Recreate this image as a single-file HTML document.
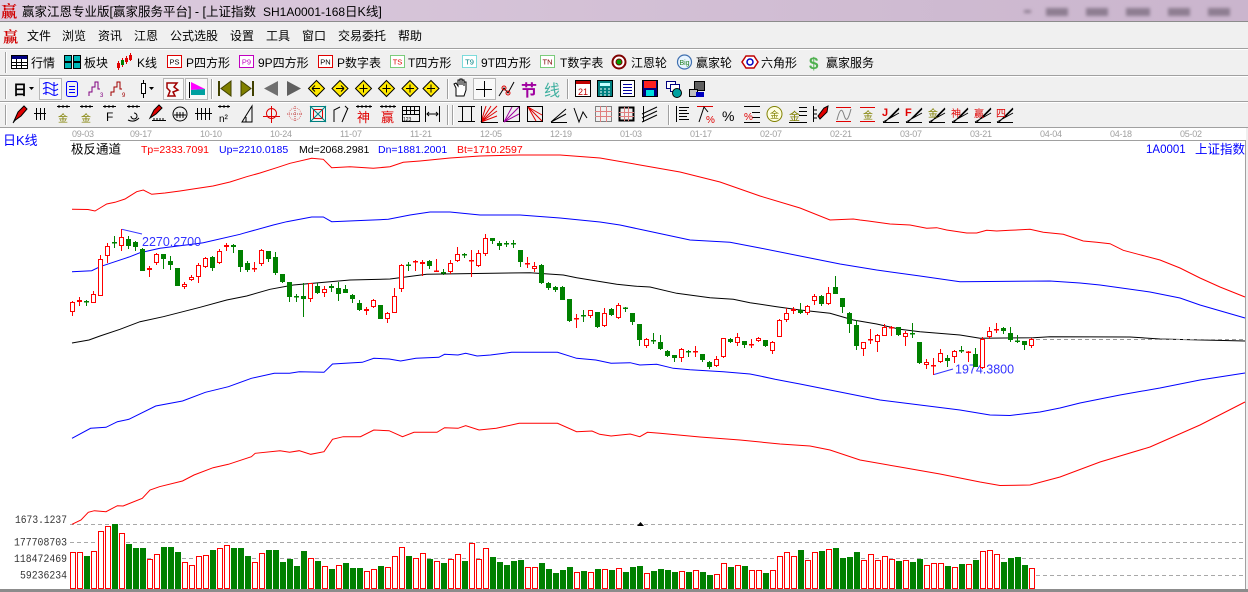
<!DOCTYPE html>
<html><head><meta charset="utf-8"><style>html,body{margin:0;padding:0;width:1248px;height:592px;overflow:hidden;background:#f0f0f0}svg{display:block}</style></head><body>
<svg width="1248" height="592" viewBox="0 0 1248 592" xmlns="http://www.w3.org/2000/svg" font-family="'Liberation Sans','Noto Sans CJK SC',sans-serif">
<defs>
<linearGradient id="tg" x1="0" x2="1" y1="0" y2="0"><stop offset="0" stop-color="#dccbde"/><stop offset="1" stop-color="#cab5cd"/></linearGradient>
<filter id="bl" x="-20%" y="-50%" width="140%" height="200%"><feGaussianBlur stdDeviation="1.6"/></filter>
</defs>
<rect width="1248" height="592" fill="#f0f0f0"/>
<!-- title bar -->
<rect width="1248" height="21" fill="url(#tg)"/>
<line x1="0" y1="21.5" x2="1248" y2="21.5" stroke="#8c8c8c"/>
<text x="1" y="17" font-size="16" font-weight="bold" fill="#d00000" font-family="'Noto Serif CJK SC',serif">赢</text>
<text x="22" y="16" font-size="12.5" fill="#000">赢家江恩专业版[赢家服务平台] - [上证指数&#160;&#160;<tspan font-size="12">SH1A0001-168</tspan>日K线]</text>
<g filter="url(#bl)" fill="#8e7e92"><rect x="1024" y="10" width="7" height="3"/><rect x="1046" y="8" width="22" height="8"/><rect x="1086" y="8" width="22" height="8"/><rect x="1126" y="8" width="24" height="8"/><rect x="1168" y="8" width="22" height="8"/><rect x="1208" y="8" width="22" height="8"/></g>
<!-- menu -->
<text x="3" y="42" font-size="15" font-weight="bold" fill="#d00000" font-family="'Noto Serif CJK SC',serif">赢</text>
<g font-size="12" fill="#000">
<text x="27" y="40">文件</text><text x="62" y="40">浏览</text><text x="98" y="40">资讯</text><text x="134" y="40">江恩</text><text x="170" y="40">公式选股</text><text x="230" y="40">设置</text><text x="266" y="40">工具</text><text x="302" y="40">窗口</text><text x="338" y="40">交易委托</text><text x="398" y="40">帮助</text>
</g>
<g stroke-width="1">
<line x1="0" y1="48.5" x2="1248" y2="48.5" stroke="#a0a0a0"/><line x1="0" y1="49.5" x2="1248" y2="49.5" stroke="#fff"/>
<line x1="0" y1="75.5" x2="1248" y2="75.5" stroke="#a0a0a0"/><line x1="0" y1="76.5" x2="1248" y2="76.5" stroke="#fff"/>
<line x1="0" y1="101.5" x2="1248" y2="101.5" stroke="#a0a0a0"/><line x1="0" y1="102.5" x2="1248" y2="102.5" stroke="#fff"/>
<line x1="0" y1="127.5" x2="1248" y2="127.5" stroke="#a0a0a0"/>
<path d="M5.5 52v21M5.5 79v20M5.5 105v20M447.5 105v20M452.5 105v20" stroke="#a0a0a0"/>
<path d="M6.5 52v21M6.5 79v20M6.5 105v20M448.5 105v20M453.5 105v20" stroke="#fff"/>
<path d="M211.5 79v20M447.5 79v20M567.5 79v20M668.5 105v20" stroke="#a0a0a0"/>
<path d="M212.5 79v20M448.5 79v20M568.5 79v20M669.5 105v20" stroke="#fff"/>
</g>
<!-- toolbar 1 -->
<g font-size="12" fill="#000">
<text x="31" y="67">行情</text><text x="84" y="67">板块</text><text x="137" y="67">K线</text><text x="186" y="67">P四方形</text><text x="258" y="67">9P四方形</text><text x="337" y="67">P数字表</text><text x="408" y="67">T四方形</text><text x="481" y="67">9T四方形</text><text x="560" y="67">T数字表</text><text x="631" y="67">江恩轮</text><text x="696" y="67">赢家轮</text><text x="761" y="67">六角形</text><text x="826" y="67">赢家服务</text>
</g>
<rect x="11.5" y="55.5" width="16" height="13" fill="#fff" stroke="#000"/><rect x="12" y="56" width="15" height="3" fill="#000080"/><path d="M12 62.5h15M12 65.5h15M16.5 59v9M21.5 59v9" stroke="#000"/>
<g fill="#00b8b8" stroke="#000"><rect x="64.5" y="55.5" width="7" height="6"/><rect x="73.5" y="55.5" width="7" height="6"/><rect x="64.5" y="62.5" width="7" height="6"/><rect x="73.5" y="62.5" width="7" height="6"/></g>
<path d="M118.5 61v9M122.5 58v9M126.5 56v8M130.5 53v8" stroke="#e00000"/><rect x="117" y="63" width="3" height="5" fill="#e00000"/><rect x="121" y="60" width="3" height="5" fill="#008000"/><rect x="125" y="58" width="3" height="4" fill="#e00000"/><rect x="129" y="55" width="3" height="5" fill="#e00000"/>
<g font-size="7.5" text-anchor="middle">
<rect x="167.5" y="55.5" width="14" height="12" fill="#fff" stroke="#e00000"/><text x="174.5" y="64.5" fill="#000">PS</text>
<rect x="239.5" y="55.5" width="14" height="12" fill="#fff" stroke="#c000c0"/><text x="246.5" y="64.5" fill="#c000c0">P9</text>
<rect x="318.5" y="55.5" width="14" height="12" fill="#fff" stroke="#e00000"/><text x="325.5" y="64.5" fill="#000">PN</text>
<rect x="390.5" y="55.5" width="14" height="12" fill="#fff" stroke="#00a000" stroke-dasharray="1 1"/><text x="397.5" y="64.5" fill="#e00000">TS</text>
<rect x="462.5" y="55.5" width="14" height="12" fill="#fff" stroke="#00c0c0" stroke-dasharray="1 1"/><text x="469.5" y="64.5" fill="#008080">T9</text>
<rect x="540.5" y="55.5" width="14" height="12" fill="#fff" stroke="#00a000" stroke-dasharray="1 1"/><text x="547.5" y="64.5" fill="#800000">TN</text>
</g>
<circle cx="619" cy="62" r="6.5" fill="#fff" stroke="#800000" stroke-width="2"/><circle cx="619" cy="62" r="3" fill="#00a000" stroke="#800000"/>
<circle cx="684.5" cy="62" r="7" fill="#e8f4ff" stroke="#4070b0" stroke-width="1.2"/><text x="684.5" y="65" font-size="7" fill="#208020" text-anchor="middle">Big</text>
<polygon points="746,56 754,56 758,62 754,68 746,68 742,62" fill="#fff" stroke="#c00000" stroke-width="1.5"/><circle cx="750" cy="62" r="3" fill="#fff" stroke="#0000c0" stroke-width="1.5"/>
<text x="809" y="69" font-size="17" font-weight="bold" fill="#50b050">$</text>
<!-- toolbar 2 -->
<text x="13" y="95" font-size="14" font-weight="bold" fill="#000">日</text><path d="M29 87h5l-2.5 3z" fill="#000"/>
<rect x="39.5" y="78.5" width="22" height="21" fill="#f9f9f9" stroke="#b8b8b8"/>
<rect x="163.5" y="78.5" width="20" height="21" fill="#f9f9f9" stroke="#b8b8b8"/>
<rect x="185.5" y="78.5" width="22" height="21" fill="#f9f9f9" stroke="#b8b8b8"/>
<rect x="473.5" y="78.5" width="22" height="21" fill="#f9f9f9" stroke="#b8b8b8"/>
<path d="M43 84q4-3 8 0t7 0M43 89q4-3 8 0t7 0M43 94q4-3 8 0t7 0M46 82v13M54 82v13" stroke="#0000ff" fill="none"/>
<rect x="66.5" y="81.5" width="11" height="15" rx="2" fill="none" stroke="#0000ff"/><path d="M69 86.5h6M69 89.5h6M69 92.5h6" stroke="#0000ff"/>
<path d="M89 96v-4h3v-5h3v-5h3v7h2" stroke="#800080" fill="none"/><text x="100" y="97" font-size="6" fill="#800080">3</text>
<path d="M111 96v-4h3v-5h3v-5h3v7h2" stroke="#a00000" fill="none"/><text x="122" y="97" font-size="6" fill="#a00000">9</text>
<path d="M143.5 80v18" stroke="#000"/><rect x="141.5" y="83.5" width="4" height="10" fill="#fff" stroke="#000"/><path d="M149 87h5l-2.5 3z" fill="#000"/>
<path d="M167 83h10l-3 4 4 3-5 2 2 4h-7l2-5-3-3z" fill="none" stroke="#a00000" stroke-width="1.5"/>
<path d="M189.5 82v16" stroke="#000"/><polygon points="191,82 205,89 191,90" fill="#ff00ff"/><polygon points="191,90 205,89 205,95 191,95" fill="#00a0a0"/>
<rect x="218" y="81" width="2" height="15" fill="#404000"/><polygon points="231,81 221,88.5 231,96" fill="#808000" stroke="#404000"/>
<polygon points="241,81 251,88.5 241,96" fill="#808000" stroke="#404000"/><rect x="252" y="81" width="2" height="15" fill="#404000"/>
<polygon points="278,81 264,88.5 278,96" fill="#707070"/><polygon points="287,81 301,88.5 287,96" fill="#606060"/>
<g fill="#ffe800" stroke="#000"><polygon points="316.5,80.5 324.5,88.5 316.5,96.5 308.5,88.5"/><polygon points="340,80.5 348,88.5 340,96.5 332,88.5"/><polygon points="363.5,80.5 371.5,88.5 363.5,96.5 355.5,88.5"/><polygon points="386.5,80.5 394.5,88.5 386.5,96.5 378.5,88.5"/><polygon points="410,80.5 418,88.5 410,96.5 402,88.5"/><polygon points="431,80.5 439,88.5 431,96.5 423,88.5"/></g>
<path d="M312 88.5h8M312 88.5l3-3M312 88.5l3 3M336 88.5h8M344 88.5l-3-3M344 88.5l-3 3M359.5 88.5h8M363.5 84.5v8M382.5 88.5h8M386.5 84.5v8M406 88.5h8M410 84.5v8M427 88.5h8M431 84.5v8" stroke="#000" fill="none"/>
<path d="M456 96v-8l-2-4 2-1 2 3v-6h2v5v-6h2v6v-5h2v6v-4h2v8l-2 6z" fill="#fff" stroke="#000"/>
<path d="M484.5 81v16M476 89.5h16" stroke="#000"/>
<path d="M499 96l5-8 4 5 6-11" stroke="#000" fill="none"/><circle cx="504" cy="88" r="2" stroke="#e00000" fill="none"/><circle cx="508" cy="93" r="2" stroke="#e00000" fill="none"/>
<text x="521" y="96" font-size="16" font-weight="bold" fill="#a000a0">节</text>
<text x="544" y="96" font-size="16" fill="#40b0a0">线</text>
<rect x="575.5" y="80.5" width="15" height="16" fill="#fff" stroke="#000"/><rect x="576" y="81" width="14" height="3" fill="#c00000"/><text x="583" y="95" font-size="9" fill="#c00000" text-anchor="middle">21</text>
<rect x="597.5" y="80.5" width="15" height="16" fill="#008080" stroke="#000"/><rect x="600" y="83" width="10" height="3" fill="#c0ffff"/><path d="M600 89h2M604 89h2M608 89h2M600 92h2M604 92h2M608 92h2M600 95h2M604 95h2M608 95h2" stroke="#fff"/>
<rect x="620.5" y="80.5" width="14" height="16" fill="#fff" stroke="#000"/><path d="M623 84.5h9M623 87.5h9M623 90.5h9M623 93.5h9" stroke="#0000a0"/>
<rect x="642.5" y="80.5" width="15" height="16" fill="#000080" stroke="#000"/><rect x="644" y="81" width="12" height="7" fill="#ff2020"/><rect x="646" y="90" width="8" height="6" fill="#00e0e0"/>
<rect x="666.5" y="81.5" width="9" height="7" fill="#fff" stroke="#000080"/><rect x="670.5" y="84.5" width="9" height="7" fill="#fff" stroke="#000080"/><circle cx="677" cy="93" r="4.5" fill="#00a0a0" stroke="#000"/>
<rect x="694.5" y="81.5" width="10" height="9" fill="#606060" stroke="#000"/><rect x="689.5" y="89.5" width="8" height="7" fill="#c0c0c0" stroke="#000"/><rect x="696" y="92" width="8" height="5" fill="#0000c0"/>
<!-- toolbar 3 -->
<g stroke="#000" fill="none">
<polygon points="14,121 18,112 24,106 27,109 21,116" fill="#e00000"/><path d="M13 123l3-4"/>
<path d="M36.5 108v12M40.5 108v12M44.5 108v12M34 113.5h12"/>
<path d="M57 106.5h13M59 105v3M63 105v3M67 105v3M80 106.5h13M82 105v3M86 105v3M90 105v3M103 106.5h13M105 105v3M109 105v3M113 105v3M127 106.5h13M129 105v3M133 105v3M137 105v3"/>
<path d="M131 116a3 3 0 1 0 3-3M128 120q6 3 11-2"/>
<polygon points="150,118 154,110 159,105 162,108 156,114" fill="#e00000"/><path d="M152 120.5h14M154 118v3M157 118v3M160 118v3M163 118v3"/>
<circle cx="180" cy="114" r="7"/><path d="M174 115h12M177 112v6M180 112v6M183 112v6"/>
<path d="M197.5 108v12M201.5 108v12M205.5 108v12M209.5 108v12M195 113.5h17"/>
<path d="M218 106.5h12M220 105v3M224 105v3M228 105v3"/>
<path d="M242 122l10-16v16zM246 122v-5"/>
<circle cx="271.5" cy="113.5" r="5" stroke="#e00000"/><path d="M263 116.5h17M271.5 106v17" stroke="#e00000"/>
<circle cx="295" cy="114" r="6" stroke="#e08080" stroke-dasharray="1 1"/><path d="M287 114h16M295 106v16" stroke="#c04040" stroke-dasharray="1 1"/>
<rect x="310.5" y="106.5" width="15" height="15" stroke="#008080"/><rect x="313.5" y="109.5" width="9" height="9" stroke="#e00000"/><path d="M310 106l16 16M326 106l-16 16" stroke="#008080"/>
<path d="M334 122V110l6-3M342 122l6-14M345 106l3 3"/>
<path d="M356 106.5h16M358 105v3M362 105v3M366 105v3M370 105v3M380 106.5h16M382 105v3M386 105v3M390 105v3M394 105v3"/>
<rect x="402.5" y="106.5" width="17" height="15"/><path d="M402 110.5h18M402 114.5h18M406.5 106v9M410.5 106v9M414.5 106v9"/>
<path d="M425.5 106v16M439.5 106v16M427 114h11M429 112l-2 2 2 2M436 112l2 2-2 2"/>
<path d="M458 106.5h17M458 121.5h17M462.5 106v16M471.5 106v16"/>
<path d="M481 122l16-16M481 122l16-11M481 122l16-6M481 122l10-16M481 122l5-16" stroke="#e00000"/><path d="M481 122.5h17M481.5 106v16"/>
<rect x="503.5" y="106.5" width="16" height="15"/><path d="M504 122l15-15M504 122l15-8M504 122l8-15" stroke="#a000a0"/>
<rect x="527.5" y="106.5" width="15" height="15"/><path d="M528 107l14 14M528 107l14 8M528 107l8 14" stroke="#e00000"/>
<path d="M551 122l15-13M551 122l15-8M551 122.5h16"/>
<path d="M574 108l5 14 4-10 4 6"/>
<rect x="595.5" y="106.5" width="16" height="15" stroke="#808080"/><path d="M595 111.5h17M595 116.5h17M600.5 106v16M606.5 106v16" stroke="#e08080"/>
<rect x="619.5" y="107.5" width="14" height="13" stroke-width="2"/><path d="M619 112.5h15M619 116.5h15M624.5 107v14M628.5 107v14" stroke="#e08080"/>
<path d="M642 114l15-7M642 118l15-7M642 122l15-7M643.5 106v16"/>
<path d="M676.5 106v16M679 107.5h10M679 110.5h8M679 113.5h10M679 116.5h8M679 119.5h10"/>
<path d="M697 106.5h16" stroke="#e00000"/><path d="M699 122l5-15 4 5"/>
<path d="M744 106.5h16M752 112.5h8M752 117.5h8M744 122.5h16"/>
<circle cx="774.5" cy="114" r="7.5" fill="#ffffe0" stroke="#808000"/>
<path d="M799 107.5h8M799 111.5h8M799 115.5h8M789 122.5h18"/>
<path d="M813.5 106v16M813 110h4M813 114h4M813 118h4"/><polygon points="818,116 824,108 828,106 827,112 820,119" fill="#e00000"/>
<path d="M836 107.5h15M836 121.5h15M860 107.5h15M860 121.5h15" stroke="#e00000"/><path d="M837 120c3-12 5-12 7-5s4 6 7-6" stroke="#808080"/>
<path d="M883 122.5h16M883 122l16-9M885 122l14-14M890 118l9-9M906 122.5h16M906 122l16-9M908 122l14-14M913 118l9-9M929 122.5h16M929 122l16-9M931 122l14-14M936 118l9-9M952 122.5h16M952 122l16-9M954 122l14-14M959 118l9-9M975 122.5h16M975 122l16-9M977 122l14-14M982 118l9-9M997 122.5h16M997 122l16-9M999 122l14-14M1004 118l9-9"/>
</g>
<g font-size="10">
<text x="58" y="122" fill="#808000">金</text><text x="81" y="122" fill="#808000">金</text>
<text x="106" y="121" font-size="12" fill="#000">F</text>
<text x="219" y="122" fill="#000">n²</text>
<text x="357" y="122" font-size="13" fill="#e00000">神</text><text x="381" y="122" font-size="13" fill="#e00000">赢</text>
<text x="403" y="121" font-size="5" fill="#000">123</text>
<text x="706" y="123" fill="#e00000">%</text>
<text x="722" y="121" font-size="14" fill="#000">%</text>
<text x="744" y="120" fill="#e00000">%</text>
<text x="770" y="118" font-size="9" fill="#808000">金</text>
<text x="789" y="120" font-size="11" fill="#808000">金</text>
<text x="863" y="119" fill="#808000">金</text>
<text x="882" y="116" font-size="11" font-weight="bold" fill="#e00000">J</text>
<text x="905" y="116" font-size="11" font-weight="bold" fill="#e00000">F</text>
<text x="928" y="117" fill="#808000">金</text>
<text x="951" y="117" fill="#e00000">神</text>
<text x="974" y="117" fill="#e00000">赢</text>
<text x="996" y="117" fill="#e00000">四</text>
</g>
<!-- chart area -->
<rect x="0" y="128" width="1246" height="461" fill="#fff"/>
<line x1="70" y1="140.5" x2="1246" y2="140.5" stroke="#a0a0a0"/>
<line x1="1245.5" y1="140" x2="1245.5" y2="589" stroke="#a0a0a0"/>
<rect x="0" y="589" width="1248" height="3" fill="#8c8c8c"/>
<text x="3" y="145" font-size="13" fill="#0000ff">日K线</text>
<g font-size="9" fill="#a0a0a0">
<text x="72" y="137" textLength="22">09-03</text><text x="130" y="137" textLength="22">09-17</text><text x="200" y="137" textLength="22">10-10</text><text x="270" y="137" textLength="22">10-24</text><text x="340" y="137" textLength="22">11-07</text><text x="410" y="137" textLength="22">11-21</text><text x="480" y="137" textLength="22">12-05</text><text x="550" y="137" textLength="22">12-19</text><text x="620" y="137" textLength="22">01-03</text><text x="690" y="137" textLength="22">01-17</text><text x="760" y="137" textLength="22">02-07</text><text x="830" y="137" textLength="22">02-21</text><text x="900" y="137" textLength="22">03-07</text><text x="970" y="137" textLength="22">03-21</text><text x="1040" y="137" textLength="22">04-04</text><text x="1110" y="137" textLength="22">04-18</text><text x="1180" y="137" textLength="22">05-02</text>
</g>
<text x="71" y="153.5" font-size="12.5" fill="#000">极反通道</text>
<g font-size="10.5">
<text x="141" y="153" fill="#ff0000">Tp=2333.7091</text><text x="219" y="153" fill="#0000ff">Up=2210.0185</text><text x="299" y="153" fill="#000">Md=2068.2981</text><text x="378" y="153" fill="#0000ff">Dn=1881.2001</text><text x="457" y="153" fill="#ff0000">Bt=1710.2597</text>
</g>
<text x="1146" y="153" font-size="11.5" fill="#0000ff">1A0001</text><text x="1195" y="153.5" font-size="12.5" fill="#0000ff">上证指数</text>
<!-- volume axis -->
<g font-family="'Liberation Mono',monospace" font-size="11" fill="#333">
<text x="15" y="523" textLength="52" lengthAdjust="spacingAndGlyphs">1673.1237</text>
<text x="14" y="545.5" textLength="53" lengthAdjust="spacingAndGlyphs">177708703</text>
<text x="14" y="562" textLength="53" lengthAdjust="spacingAndGlyphs">118472469</text>
<text x="20" y="578.5" textLength="47" lengthAdjust="spacingAndGlyphs">59236234</text>
</g>
<path d="M70 524.5H1245M70 542.5H1245M70 558.5H1245M70 575.5H1245" stroke="#a8a8a8" stroke-dasharray="4 3"/>
<polygon points="637,526 644,526 640.5,522" fill="#000"/>
<!-- channel lines -->
<g fill="none" stroke-width="1">
<polyline stroke="#ff0000" points="72,209.3 88,209.5 95,211 100,208 106.7,204 115,202.3 125,199 136.7,191.7 143.3,190 151.7,194.3 165,193 180,191 193,189 213,186 230,182 246.7,176.7 260,173 276.7,167.7 290,163.3 311.7,158.3 323.3,159.3 331.7,167.7 350,166.7 373.3,168.3 390,166.7 403.3,162.3 420,161 450,158 480,156 520,155 560,155 600,158 640,165 680,172 720,182 760,196 800,208 830,220 853.3,219 860,220 868.3,221 890,224 910,225 926.7,228.3 936.7,227.7 946.7,230 966.7,233 976.7,233 986.7,230.3 996.7,231 1010,230.3 1030,229.3 1043.3,232.3 1063.3,234.3 1083.3,241 1096.7,242.3 1110,243.7 1123.3,250.3 1138.3,254.3 1160,260 1180,268 1200,278 1220,287 1245,297"/>
<polyline stroke="#0000ff" points="72,271.7 91.7,270.7 100,266.7 115,261.7 130,256.7 140,252.7 160,248.3 200,243.3 203.3,242.7 240,234.3 243.3,233.3 273.3,225 286.7,221.7 311.7,217 323.3,217 331.7,221.7 366.7,220.3 388.3,219.3 410,215 430,212 450,212 480,215 520,215 560,218 600,222 620,225 643.3,230 690,240 730,242.3 760,248 800,256 840,264 876.7,270 920,276 960,281.7 1050,281 1080,283 1100,285 1150,292 1180,298 1200,305 1245,318"/>
<polyline stroke="#000" points="72,343 89,340 100,336 120,329.3 140,321.7 163.3,316.7 200,307.3 226.7,300 246.7,296 270,289.3 293.3,285 350,280 390,279 426.7,274.3 530,272.7 563.3,275 576.7,277.7 616.7,284.3 636.7,286.3 650,287 676.7,293.3 710,297.7 733.3,299.3 750,302.7 776.7,306.7 800,310 830,313.3 853.3,320 876.7,324 900,329.3 920,331.7 960,335 980,338.3 1033.3,337.7 1050,336.7 1130,337 1160,339 1245,341"/>
<polyline stroke="#0000ff" points="72,438.3 90.6,428.3 106,427.3 117.4,421.7 128.9,419.3 155.7,406 182.5,401 205.4,392.3 228.4,386.7 251.4,378.3 274.3,373.3 289.6,373.3 299.2,371.7 324,372.3 332.5,364 362.3,362.3 373.8,358.3 389.1,359 400.6,361 415.9,358.3 438.9,357.3 444.6,354.3 458,355 465.7,353.3 477.1,356 490.5,355 511.6,352.3 557.5,352.3 576.6,358.3 595.8,360 611.1,363.3 630.2,362.7 639.8,365 656.7,364.3 673.3,368.3 690,369.7 723.3,371.7 750,374 760,376 775,379.3 800,384 830,390 850,394 880,400 920,405 960,410 990,415 1010,415.5 1040,412 1060,408 1080,403 1120,395 1160,388 1200,380 1245,373"/>
<polyline stroke="#ff0000" points="72,524.3 81,520 88.3,512.3 94.4,510.7 106,511.7 117.4,505.7 123.1,506 142.3,498.3 150,490 159.5,486.7 182.5,481 194,475 213.1,467.7 228.4,464.3 251.4,456.7 255.2,453.3 280,450.7 289.6,452.3 299.2,450.7 310.7,454.3 324,451.7 332.5,439.3 343.2,436.7 360.4,436.7 373.8,430 389.1,430.7 402.5,436.7 414,432.3 437,432.3 444.6,427.7 458,428.3 465.7,425.7 479.1,430 496.3,428.3 519.2,423.3 557.5,423.3 576.6,431.7 592,431 599.6,434.3 611.1,436 630.2,434 639.8,436.7 647.5,432.3 660,433.3 700,437 740,440 780,444 810,446 830,450 860,460 900,467 940,474 980,482 1000,485.5 1030,485 1060,477 1100,462 1150,447 1200,425 1245,402"/>
<path d="M1036 339.5H1245" stroke="#999" stroke-dasharray="4 3"/>
<path d="M122 229.3L142 234M934 374.5L953 369" stroke="#3333ff"/>
</g>
<text x="142" y="246" font-size="12.5" fill="#3333ff">2270.2700</text>
<text x="955" y="373.5" font-size="12.5" fill="#3333ff">1974.3800</text>
<!-- wicks -->
<path fill="none" stroke="#ff0000" d="M72.5 301V316M79.5 297V306M93.5 291V303M100.5 255V296M107.5 243V263M121.5 229V251M149.5 266V277M156.5 253V265M184.5 282V289M191.5 275V281M198.5 263V283M205.5 257V268M219.5 249V264M226.5 243V251M254.5 262V272M261.5 249V266M310.5 283V302M324.5 286V297M366.5 307V315M373.5 299V308M387.5 312V323M394.5 288V313M401.5 264V292M415.5 260V271M422.5 260V276M436.5 259V272M450.5 260V274M457.5 247V262M471.5 250V277M478.5 250V267M485.5 234V256M527.5 257V268M534.5 262V272M576.5 314V328M590.5 310V318M604.5 308V327M618.5 303V319M646.5 338V348M681.5 348V362M695.5 346V357M716.5 356V367M723.5 338V358M737.5 333V346M751.5 339V348M758.5 337V342M772.5 341V354M779.5 319V337M786.5 308V322M793.5 307V314M807.5 305V315M814.5 294V305M828.5 287V305M863.5 342V356M870.5 329V344M877.5 334V352M884.5 324V336M891.5 326V336M905.5 331V346M926.5 359V369M933.5 358V375M940.5 349V363M954.5 350V363M968.5 351V362M982.5 337V369M989.5 327V339M996.5 323V333M1031.5 338V348"/>
<path fill="none" stroke="#008000" d="M86.5 300V306M114.5 236V248M128.5 236V249M135.5 241V251M142.5 248V271M163.5 254V269M170.5 256V270M177.5 268V286M212.5 256V271M233.5 244V253M240.5 250V272M247.5 261V272M268.5 251V262M275.5 252V275M282.5 274V283M289.5 282V302M296.5 294V302M303.5 283V317M317.5 283V294M331.5 284V292M338.5 282V301M345.5 285V293M352.5 294V303M359.5 300V311M380.5 305V319M408.5 262V271M429.5 260V269M443.5 269V275M464.5 253V258M492.5 238V244M499.5 241V250M506.5 241V247M513.5 240V248M520.5 250V267M541.5 264V284M548.5 282V290M555.5 286V292M562.5 286V300M569.5 299V322M583.5 310V322M597.5 312V328M611.5 308V316M625.5 307V312M632.5 313V325M639.5 324V346M653.5 333V344M660.5 335V350M667.5 350V357M674.5 355V362M688.5 350V357M702.5 354V362M709.5 361V369M730.5 338V343M744.5 341V348M765.5 340V347M800.5 303V314M821.5 295V306M835.5 276V294M842.5 298V313M849.5 312V333M856.5 320V350M898.5 327V336M912.5 323V338M919.5 342V364M947.5 355V367M961.5 346V353M975.5 348V367M1003.5 327V334M1010.5 327V342M1017.5 335V343M1024.5 341V350"/>
<!-- red hollow bodies -->
<path fill="#fff" stroke="#ff0000" d="M70.5 302.5h4v9h-4zM77.5 300.5h4v1h-4zM91.5 294.5h4v8h-4zM98.5 259.5h4v36h-4zM105.5 246.5h4v9h-4zM119.5 237.5h4v8h-4zM147.5 268.5h4v1h-4zM154.5 254.5h4v8h-4zM182.5 284.5h4v2h-4zM189.5 277.5h4v2h-4zM196.5 265.5h4v11h-4zM203.5 258.5h4v8h-4zM217.5 251.5h4v11h-4zM224.5 245.5h4v1h-4zM259.5 250.5h4v13h-4zM308.5 283.5h4v15h-4zM322.5 289.5h4v3h-4zM364.5 309.5h4v1h-4zM371.5 300.5h4v6h-4zM385.5 313.5h4v5h-4zM392.5 296.5h4v16h-4zM399.5 265.5h4v23h-4zM420.5 262.5h4v1h-4zM448.5 263.5h4v8h-4zM455.5 254.5h4v6h-4zM476.5 253.5h4v12h-4zM483.5 238.5h4v15h-4zM532.5 266.5h4v2h-4zM588.5 310.5h4v5h-4zM602.5 313.5h4v12h-4zM616.5 305.5h4v12h-4zM644.5 339.5h4v6h-4zM679.5 349.5h4v8h-4zM714.5 359.5h4v6h-4zM721.5 338.5h4v18h-4zM735.5 337.5h4v5h-4zM756.5 338.5h4v2h-4zM770.5 342.5h4v8h-4zM777.5 320.5h4v16h-4zM784.5 313.5h4v6h-4zM791.5 309.5h4v1h-4zM805.5 306.5h4v6h-4zM812.5 296.5h4v4h-4zM826.5 293.5h4v10h-4zM861.5 342.5h4v6h-4zM875.5 335.5h4v6h-4zM882.5 327.5h4v8h-4zM903.5 333.5h4v3h-4zM924.5 362.5h4v2h-4zM938.5 353.5h4v8h-4zM952.5 351.5h4v5h-4zM980.5 339.5h4v28h-4zM987.5 331.5h4v5h-4zM1029.5 339.5h4v6h-4z"/>
<!-- red doji -->
<path fill="#ff0000" d="M252 268h5v1.5h-5zM413 261h5v1.5h-5zM434 270.5h5v1.5h-5zM469 260h5v1.5h-5zM525 263h5v1.5h-5zM574 318h5v1.5h-5zM693 351h5v1.5h-5zM749 344h5v1.5h-5zM868 339h5v1.5h-5zM889 327h5v1.5h-5zM931 365h5v1.5h-5zM966 351.5h5v1.5h-5zM994 329h5v1.5h-5z"/>
<!-- green bodies -->
<path fill="#008000" d="M84 301h5v1.5h-5zM112 242h5v1.5h-5zM126 239h5v7h-5zM133 242h5v5h-5zM140 249h5v22h-5zM161 254h5v5h-5zM168 261h5v4h-5zM175 268h5v18h-5zM210 257h5v11h-5zM231 245h5v2h-5zM238 250h5v17h-5zM245 263h5v7h-5zM266 251h5v8h-5zM273 257h5v16h-5zM280 274h5v8h-5zM287 282h5v15h-5zM294 296h5v1.5h-5zM301 296h5v3h-5zM315 286h5v7h-5zM329 286h5v2h-5zM336 288h5v6h-5zM343 289h5v4h-5zM350 295h5v4h-5zM357 303h5v7h-5zM378 305h5v14h-5zM406 264.5h5v1.5h-5zM427 261h5v5h-5zM441 272h5v1.5h-5zM462 254h5v1.5h-5zM490 238h5v3h-5zM497 243h5v3h-5zM504 243h5v1.5h-5zM511 243h5v1.5h-5zM518 250h5v12h-5zM539 265h5v18h-5zM546 283h5v5h-5zM553 287h5v3h-5zM560 287h5v13h-5zM567 299h5v22h-5zM581 315h5v1.5h-5zM595 312h5v15h-5zM609 309h5v6h-5zM623 307.5h5v1.5h-5zM630 313h5v9h-5zM637 324h5v16h-5zM651 340h5v1.5h-5zM658 342h5v7h-5zM665 351h5v5h-5zM672 355h5v3h-5zM686 351h5v1.5h-5zM700 354h5v6h-5zM707 362h5v5h-5zM728 339h5v3h-5zM742 341h5v4h-5zM763 340h5v6h-5zM798 310h5v3h-5zM819 296h5v8h-5zM833 287h5v7h-5zM840 298h5v9h-5zM847 313h5v11h-5zM854 325h5v21h-5zM896 327h5v8h-5zM910 333h5v1.5h-5zM917 342h5v21h-5zM945 358h5v3h-5zM959 350h5v1.5h-5zM973 354h5v13h-5zM1001 328h5v3h-5zM1008 333h5v7h-5zM1015 340.5h5v1.5h-5zM1022 341h5v4h-5z"/>
<!-- volume green -->
<path fill="#008000" d="M84 556h6V589h-6zM112 524h6V589h-6zM126 544h6V589h-6zM133 548h6V589h-6zM140 548h6V589h-6zM161 547h6V589h-6zM168 547h6V589h-6zM175 552h6V589h-6zM210 550h6V589h-6zM231 548h6V589h-6zM238 548h6V589h-6zM245 556h6V589h-6zM266 550h6V589h-6zM273 550h6V589h-6zM280 562h6V589h-6zM287 559h6V589h-6zM294 566h6V589h-6zM301 551h6V589h-6zM315 561h6V589h-6zM329 569h6V589h-6zM343 563h6V589h-6zM350 568h6V589h-6zM357 568h6V589h-6zM378 566h6V589h-6zM406 556h6V589h-6zM427 559h6V589h-6zM441 563h6V589h-6zM462 561h6V589h-6zM490 557h6V589h-6zM497 562h6V589h-6zM504 565h6V589h-6zM511 561h6V589h-6zM518 560h6V589h-6zM539 563h6V589h-6zM546 569h6V589h-6zM553 573h6V589h-6zM560 570h6V589h-6zM567 567h6V589h-6zM581 571h6V589h-6zM595 569h6V589h-6zM609 570h6V589h-6zM623 572h6V589h-6zM630 567h6V589h-6zM637 566h6V589h-6zM651 571h6V589h-6zM658 569h6V589h-6zM665 570h6V589h-6zM672 572h6V589h-6zM686 572h6V589h-6zM700 572h6V589h-6zM707 575h6V589h-6zM728 567h6V589h-6zM742 566h6V589h-6zM763 573h6V589h-6zM798 550h6V589h-6zM819 551h6V589h-6zM833 548h6V589h-6zM840 558h6V589h-6zM847 557h6V589h-6zM854 552h6V589h-6zM896 561h6V589h-6zM910 562h6V589h-6zM917 559h6V589h-6zM945 566h6V589h-6zM959 564h6V589h-6zM973 560h6V589h-6zM1001 562h6V589h-6zM1008 558h6V589h-6zM1015 557h6V589h-6zM1022 565h6V589h-6z"/>
<!-- volume red -->
<path fill="#fff" stroke="#ff0000" d="M70.5 552.5h5V588.5h-5zM77.5 552.5h5V588.5h-5zM91.5 551.5h5V588.5h-5zM98.5 531.5h5V588.5h-5zM105.5 526.5h5V588.5h-5zM119.5 533.5h5V588.5h-5zM147.5 559.5h5V588.5h-5zM154.5 554.5h5V588.5h-5zM182.5 562.5h5V588.5h-5zM189.5 565.5h5V588.5h-5zM196.5 556.5h5V588.5h-5zM203.5 555.5h5V588.5h-5zM217.5 548.5h5V588.5h-5zM224.5 545.5h5V588.5h-5zM252.5 562.5h5V588.5h-5zM259.5 553.5h5V588.5h-5zM308.5 558.5h5V588.5h-5zM322.5 566.5h5V588.5h-5zM336.5 565.5h5V588.5h-5zM364.5 571.5h5V588.5h-5zM371.5 569.5h5V588.5h-5zM385.5 567.5h5V588.5h-5zM392.5 556.5h5V588.5h-5zM399.5 547.5h5V588.5h-5zM413.5 558.5h5V588.5h-5zM420.5 553.5h5V588.5h-5zM434.5 561.5h5V588.5h-5zM448.5 559.5h5V588.5h-5zM455.5 554.5h5V588.5h-5zM469.5 543.5h5V588.5h-5zM476.5 559.5h5V588.5h-5zM483.5 548.5h5V588.5h-5zM525.5 567.5h5V588.5h-5zM532.5 567.5h5V588.5h-5zM574.5 572.5h5V588.5h-5zM588.5 572.5h5V588.5h-5zM602.5 569.5h5V588.5h-5zM616.5 568.5h5V588.5h-5zM644.5 573.5h5V588.5h-5zM679.5 571.5h5V588.5h-5zM693.5 570.5h5V588.5h-5zM714.5 574.5h5V588.5h-5zM721.5 563.5h5V588.5h-5zM735.5 565.5h5V588.5h-5zM749.5 570.5h5V588.5h-5zM756.5 570.5h5V588.5h-5zM770.5 570.5h5V588.5h-5zM777.5 556.5h5V588.5h-5zM784.5 552.5h5V588.5h-5zM791.5 556.5h5V588.5h-5zM805.5 560.5h5V588.5h-5zM812.5 552.5h5V588.5h-5zM826.5 549.5h5V588.5h-5zM861.5 560.5h5V588.5h-5zM868.5 554.5h5V588.5h-5zM875.5 560.5h5V588.5h-5zM882.5 556.5h5V588.5h-5zM889.5 559.5h5V588.5h-5zM903.5 560.5h5V588.5h-5zM924.5 565.5h5V588.5h-5zM931.5 563.5h5V588.5h-5zM938.5 563.5h5V588.5h-5zM952.5 567.5h5V588.5h-5zM966.5 564.5h5V588.5h-5zM980.5 551.5h5V588.5h-5zM987.5 550.5h5V588.5h-5zM994.5 554.5h5V588.5h-5zM1029.5 568.5h5V588.5h-5z"/>
</svg>
</body></html>
